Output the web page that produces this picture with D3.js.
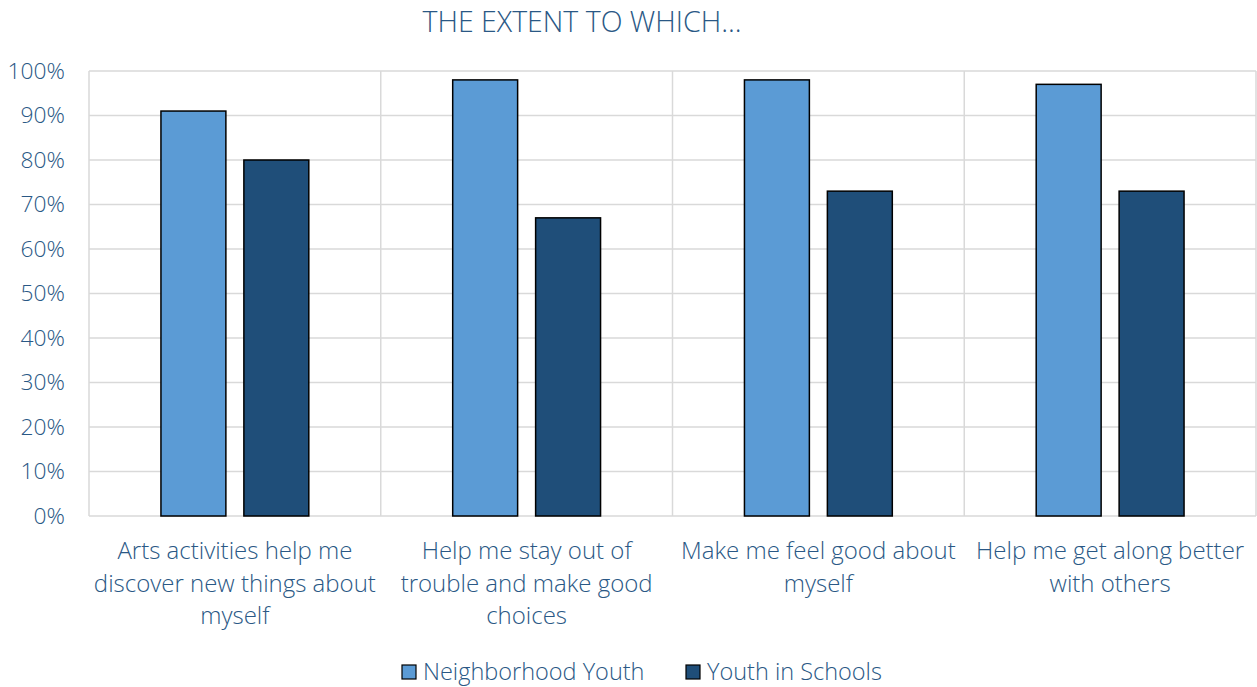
<!DOCTYPE html>
<html><head><meta charset="utf-8">
<script src="https://cdn.jsdelivr.net/npm/d3@7"></script>
<style>body{margin:0;background:#fff;} text{font-family:"Open Sans",sans-serif;font-weight:300;}</style>
</head><body><svg id="c" width="1257" height="687"></svg>
<script>
const categories = [
  ["Arts activities help me","discover new things about","myself"],
  ["Help me stay out of","trouble and make good","choices"],
  ["Make me feel good about","myself"],
  ["Help me get along better","with others"]
];
const seriesNames = ["Neighborhood Youth","Youth in Schools"];
const neighborhood = [91, 98, 98, 97];
const schools = [80, 67, 73, 73];
const yTicks = [0,10,20,30,40,50,60,70,80,90,100];
const title = "THE EXTENT TO WHICH...";

const colors = ["#5B9BD5","#1F4E79"];
const textColor = "#2A5885";
const svg = d3.select("#c");
const L=89, R=1256, T=71, B=516;
const x = d3.scaleBand().domain(d3.range(categories.length)).range([L,R]);
const y = d3.scaleLinear().domain([0,100]).range([B,T]);
const bw = x.bandwidth();
const xi = d3.scaleBand().domain([0,1]).range([bw*0.2466,bw*0.7534]).paddingInner(0.217);

// gridlines
svg.append("g").selectAll("line").data(yTicks).join("line")
  .attr("x1",L).attr("x2",R).attr("y1",d=>y(d)).attr("y2",d=>y(d))
  .attr("stroke","#d9d9d9").attr("stroke-width",1.5);
// vertical separators
svg.append("g").selectAll("line").data(d3.range(categories.length+1)).join("line")
  .attr("x1",d=>d<categories.length?x(d):R).attr("x2",d=>d<categories.length?x(d):R)
  .attr("y1",T).attr("y2",B).attr("stroke","#d9d9d9").attr("stroke-width",1.5);

// y axis labels
svg.append("g").selectAll("text").data(yTicks).join("text")
  .attr("x",65).attr("y",d=>y(d)).attr("dy","0.35em").attr("text-anchor","end")
  .attr("font-size",22.8).attr("fill",textColor).text(d=>d+"%");

// bars
const series=[neighborhood,schools];
series.forEach((vals,si)=>{
  svg.append("g").selectAll("rect").data(vals).join("rect")
    .attr("x",(d,i)=>x(i)+xi(si)).attr("width",xi.bandwidth())
    .attr("y",d=>y(d)).attr("height",d=>B-y(d))
    .attr("fill",colors[si]).attr("stroke","#000").attr("stroke-width",1.5);
});

// category labels
categories.forEach((lines,i)=>{
  const t=svg.append("text").attr("text-anchor","middle").attr("font-size",24).attr("fill",textColor);
  lines.forEach((ln,j)=>t.append("tspan").attr("x",x(i)+x.bandwidth()/2).attr("y",559+j*32.5).text(ln));
});

// title
svg.append("text").attr("x",582).attr("y",32).attr("text-anchor","middle")
  .attr("font-size",28.5).attr("fill",textColor).text(title);

// legend
const lx=[402,686];
seriesNames.forEach((n,i)=>{
  svg.append("rect").attr("x",lx[i]).attr("y",665).attr("width",14).attr("height",14)
    .attr("fill",colors[i]).attr("stroke","#000").attr("stroke-width",1.2);
  svg.append("text").attr("x",lx[i]+21).attr("y",672).attr("dy","0.35em")
    .attr("font-size",23.5).attr("fill",textColor).text(n);
});
</script></body></html>
